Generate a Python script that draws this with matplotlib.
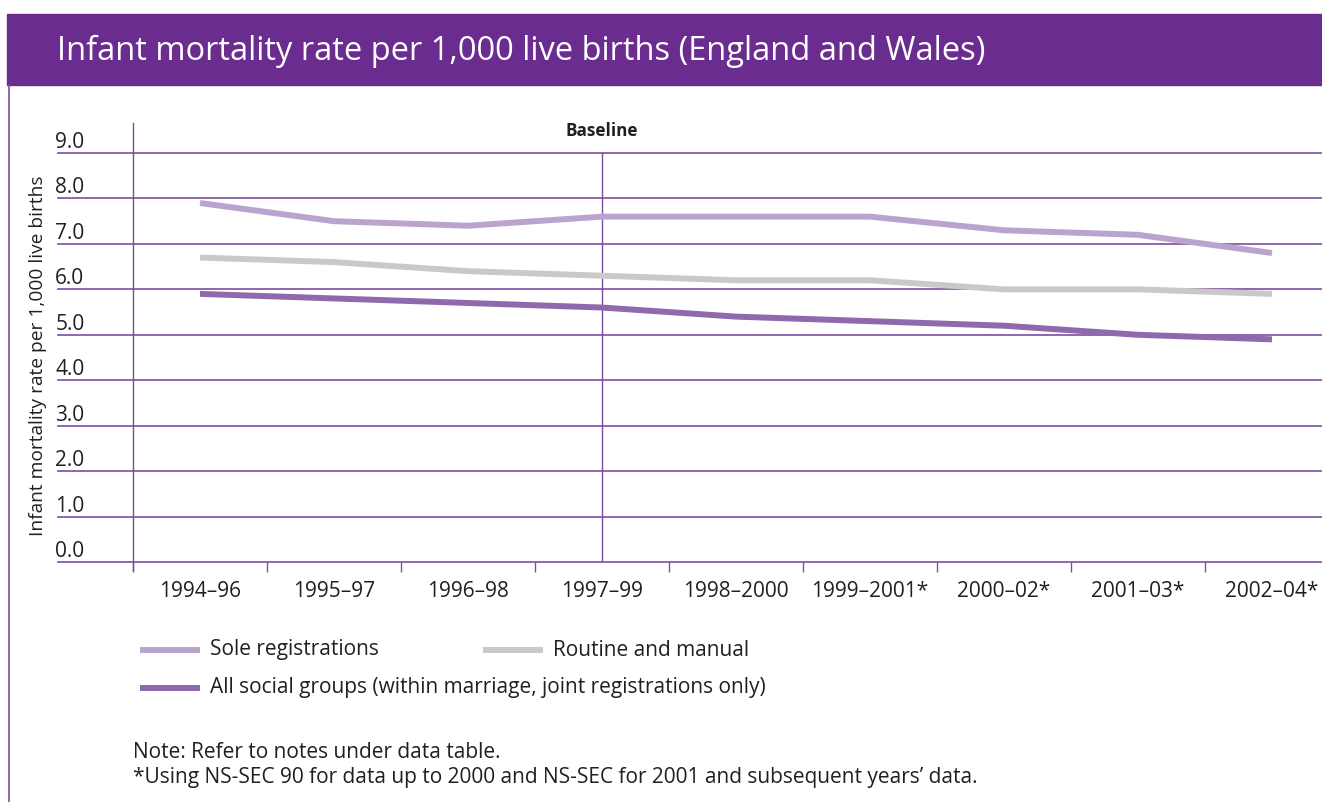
#!/usr/bin/env python3
"""Infant mortality rate per 1,000 live births (England and Wales), 1994-96 to 2002-04."""

import matplotlib
matplotlib.use("Agg")
import matplotlib.pyplot as plt
from matplotlib.patches import Rectangle
from matplotlib.lines import Line2D

plt.rcParams["font.family"] = ["Open Sans", "DejaVu Sans"]

periods = ["1994–96", "1995–97", "1996–98", "1997–99", "1998–2000",
           "1999–2001*", "2000–02*", "2001–03*", "2002–04*"]
sole_registrations = [7.9, 7.5, 7.4, 7.6, 7.6, 7.6, 7.3, 7.2, 6.8]
routine_manual = [6.7, 6.6, 6.4, 6.3, 6.2, 6.2, 6.0, 6.0, 5.9]
all_social_groups = [5.9, 5.8, 5.7, 5.6, 5.4, 5.3, 5.2, 5.0, 4.9]
y_ticks = [0.0, 1.0, 2.0, 3.0, 4.0, 5.0, 6.0, 7.0, 8.0, 9.0]
baseline_period = "1997–99"

PURPLE = "#6B2C8F"
GRID = "#7B4DA0"
C_SOLE = "#BAA4CF"
C_ROUTINE = "#C9C9C9"
C_ALL = "#8E69AC"
TEXT = "#231F20"

W, H = 1322, 802
fig = plt.figure(figsize=(W / 100, H / 100), dpi=100)


def fx(px):
    return px / W


def fy(py):
    return 1 - py / H


# header band and left frame line
fig.patches.append(Rectangle((fx(7), fy(85)), fx(W - 7), 71 / H,
                             transform=fig.transFigure, color=PURPLE, zorder=0))
fig.lines.append(Line2D([fx(8.5), fx(8.5)], [fy(85), 0], transform=fig.transFigure,
                        color=GRID, lw=1.2))
fig.text(fx(57), fy(51), "Infant mortality rate per 1,000 live births (England and Wales)",
         color="white", fontsize=23.5, va="center", ha="left")

# plot area: 9 category slots of 134 px, the last one running off the right edge
ax_left, ax_top, ax_bottom = 133, 123, 562
y_top = 9 + 30 / 45.4
ax = fig.add_axes([fx(ax_left), fy(ax_bottom), 9 * 134 / W, (ax_bottom - ax_top) / H])
ax.set_xlim(-0.5, 8.5)
ax.set_ylim(0, y_top)

for v in y_ticks:
    ax.axhline(v, xmin=-75 / 1206, xmax=1, color=GRID, lw=1.2, clip_on=False, zorder=1)

# baseline marker runs from the axis floor up to the top gridline
base_x = periods.index(baseline_period)
ax.axvline(base_x, ymin=0, ymax=max(y_ticks) / y_top, color=GRID, lw=1.0, zorder=1)
ax.text(base_x, 9 + 22 / 45.4, "Baseline", ha="center", va="center",
        fontsize=12.3, fontweight="bold", color=TEXT)

x = range(len(periods))
ax.plot(x, sole_registrations, color=C_SOLE, lw=4.3, solid_capstyle="butt", zorder=3)
ax.plot(x, routine_manual, color=C_ROUTINE, lw=4.3, solid_capstyle="butt", zorder=3)
ax.plot(x, all_social_groups, color=C_ALL, lw=4.3, solid_capstyle="butt", zorder=3)

for side in ["top", "right", "bottom"]:
    ax.spines[side].set_visible(False)
ax.spines["left"].set_color(GRID)
ax.spines["left"].set_linewidth(1.0)
ax.spines["left"].set_bounds(-8 / 45.4, y_top)

ax.set_xticks(list(x))
ax.set_xticklabels(periods, fontsize=15, color=TEXT)
ax.tick_params(axis="x", which="major", length=0, pad=14)
ax.set_xticks([i - 0.5 for i in range(len(periods) + 1)], minor=True)
ax.tick_params(axis="x", which="minor", length=7, width=1.0, color=GRID)

ax.set_yticks(y_ticks)
ax.set_yticklabels([f"{v:.1f}" for v in y_ticks], fontsize=15, color=TEXT)
ax.tick_params(axis="y", length=0, pad=35)
for lab in ax.get_yticklabels():
    lab.set_verticalalignment("bottom")

fig.text(fx(38), fy(356), "Infant mortality rate per 1,000 live births", rotation=90,
         ha="center", va="center", fontsize=13.8, color=TEXT)

# legend, laid out by hand in two rows
legend_items = [
    ("Sole registrations", C_SOLE, 140, 650),
    ("Routine and manual", C_ROUTINE, 483, 650),
    ("All social groups (within marriage, joint registrations only)", C_ALL, 140, 688),
]
for label, color, lx, ly in legend_items:
    fig.lines.append(Line2D([fx(lx), fx(lx + 60)], [fy(ly), fy(ly)],
                            transform=fig.transFigure, color=color, lw=4.3,
                            solid_capstyle="butt"))
    fig.text(fx(lx + 70), fy(ly), label, ha="left", va="center", fontsize=15, color=TEXT)

fig.text(fx(133), fy(752), "Note: Refer to notes under data table.",
         ha="left", va="center", fontsize=15, color=TEXT)
fig.text(fx(133), fy(778),
         "*Using NS-SEC 90 for data up to 2000 and NS-SEC for 2001 and subsequent years’ data.",
         ha="left", va="center", fontsize=15, color=TEXT)

fig.savefig("out.png", dpi=100)
